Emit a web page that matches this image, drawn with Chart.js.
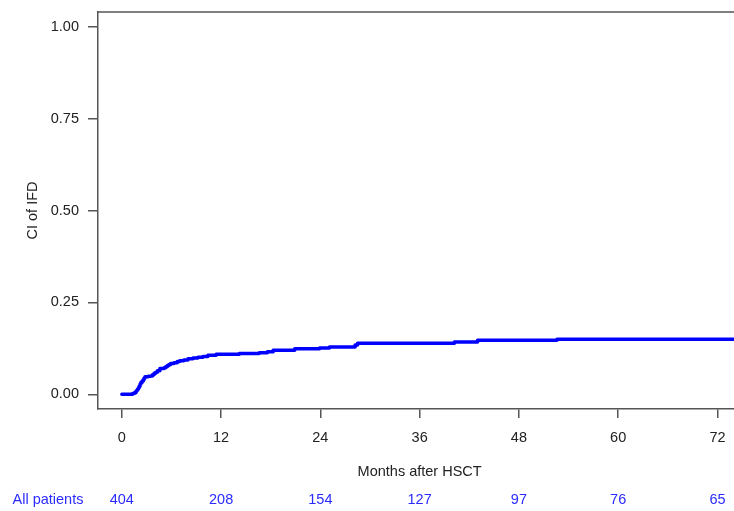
<!DOCTYPE html>
<html>
<head>
<meta charset="utf-8">
<script src="https://cdn.jsdelivr.net/npm/chart.js@4/dist/chart.umd.min.js"></script>
<style>
  html, body { margin: 0; padding: 0; background: #fff; }
  #wrap { width: 734px; height: 511px; }
</style>
</head>
<body>
<div id="wrap"><canvas id="ciChart" width="734" height="511"></canvas></div>
<script>
// cumulative incidence of IFD, step points (months, CI)
var months = [0, 1.3, 1.5, 1.7, 1.8, 1.9, 2.0, 2.1, 2.2, 2.3, 2.45, 2.6, 2.7, 2.8, 3.2, 3.5, 3.7, 3.9, 4.1,
  4.3, 4.6, 5.1, 5.3, 5.5, 5.7, 5.9, 6.3, 6.7, 7.0, 7.5, 8.0, 8.6, 9.2, 9.8, 10.4, 11.4,
  14.2, 16.6, 17.6, 18.3, 20.9, 23.9, 25.1, 28.2, 28.5, 40.2, 43.0, 52.6, 74];
var ciValues = [0, 0.002, 0.004, 0.008, 0.011, 0.014, 0.018, 0.022, 0.027, 0.032, 0.036, 0.040, 0.044, 0.048,
  0.049, 0.050, 0.053, 0.057, 0.060, 0.064, 0.070, 0.072, 0.075, 0.078, 0.081, 0.084, 0.086, 0.089,
  0.091, 0.093, 0.097, 0.099, 0.101, 0.103, 0.106, 0.109,
  0.111, 0.113, 0.116, 0.120, 0.124, 0.126, 0.129, 0.134, 0.139, 0.142, 0.147, 0.150, 0.150];

var xTicks = [0, 12, 24, 36, 48, 60, 72];
var yTicks = [0, 0.25, 0.5, 0.75, 1];

// numbers at risk
var riskLabel = 'All patients';
var riskTimes = [0, 12, 24, 36, 48, 60, 72];
var riskCounts = [404, 208, 154, 127, 97, 76, 65];

var points = months.map(function (m, i) { return { x: m, y: ciValues[i] }; });

var FONT = 'Liberation Sans, Arial, sans-serif';
var AXIS_COLOR = '#555';

/* cadre du haut, titres des axes et table des patients a risque */
var extras = {
  id: 'extras',
  afterDraw: function (chart) {
    var ctx = chart.ctx;
    var area = chart.chartArea;
    var xs = chart.scales.x;
    ctx.save();
    ctx.strokeStyle = AXIS_COLOR;
    ctx.lineWidth = 1.5;
    ctx.beginPath();
    ctx.moveTo(area.left, area.top);
    ctx.lineTo(area.right, area.top);
    ctx.stroke();

    ctx.font = '14.5px ' + FONT;
    ctx.fillStyle = '#222';
    ctx.textAlign = 'center';
    ctx.textBaseline = 'middle';
    ctx.fillText('Months after HSCT', xs.getPixelForValue(36), 472);

    ctx.save();
    ctx.translate(33, (area.top + area.bottom) / 2);
    ctx.rotate(-Math.PI / 2);
    ctx.fillText('CI of IFD', 0, 0);
    ctx.restore();

    ctx.fillStyle = '#2b2bff';
    ctx.fillText(riskLabel, 48, 500);
    riskTimes.forEach(function (t, i) {
      ctx.fillText(String(riskCounts[i]), xs.getPixelForValue(t), 500);
    });
    ctx.restore();
  }
};

var ctx_1 = document.getElementById('ciChart').getContext('2d');
var chart = new Chart(ctx_1, {
  type: 'line',
  data: {
    datasets: [{
      label: 'CI of IFD',
      data: points,
      stepped: 'before',
      borderColor: '#0000ff',
      backgroundColor: 'transparent',
      borderWidth: 3.5,
      borderJoinStyle: 'round',
      borderCapStyle: 'round',
      pointRadius: 0,
      fill: false
    }]
  },
  options: {
    responsive: false,
    animation: false,
    layout: { padding: { top: 12, left: 0, right: 0, bottom: 0 } },
    plugins: { legend: { display: false }, tooltip: { enabled: false } },
    scales: {
      x: {
        type: 'linear',
        min: -2.88,
        max: 74.0,
        afterBuildTicks: function (scale) {
          scale.ticks = xTicks.map(function (v) { return { value: v }; });
        },
        afterFit: function (scale) {
          scale.height = 102;
          scale.paddingLeft = 0;
          scale.paddingRight = 0;
        },
        grid: { drawOnChartArea: false, drawTicks: true, tickLength: 9, color: AXIS_COLOR, lineWidth: 1.5 },
        border: { display: true, color: AXIS_COLOR, width: 1.5 },
        ticks: {
          autoSkip: false, maxRotation: 0, padding: 11, color: '#222',
          font: { family: FONT, size: 14.5 }
        }
      },
      y: {
        min: -0.04,
        max: 1.04,
        afterBuildTicks: function (scale) {
          scale.ticks = yTicks.map(function (v) { return { value: v }; });
        },
        afterFit: function (scale) {
          scale.width = 98;
          scale.paddingTop = 0;
          scale.paddingBottom = 0;
        },
        grid: { drawOnChartArea: false, drawTicks: true, tickLength: 10, color: AXIS_COLOR, lineWidth: 1.5 },
        border: { display: true, color: AXIS_COLOR, width: 1.5 },
        ticks: {
          padding: 9, color: '#222',
          font: { family: FONT, size: 14.5 },
          callback: function (v) { return v.toFixed(2); }
        }
      }
    }
  },
  plugins: [extras]
});
</script>
</body>
</html>
